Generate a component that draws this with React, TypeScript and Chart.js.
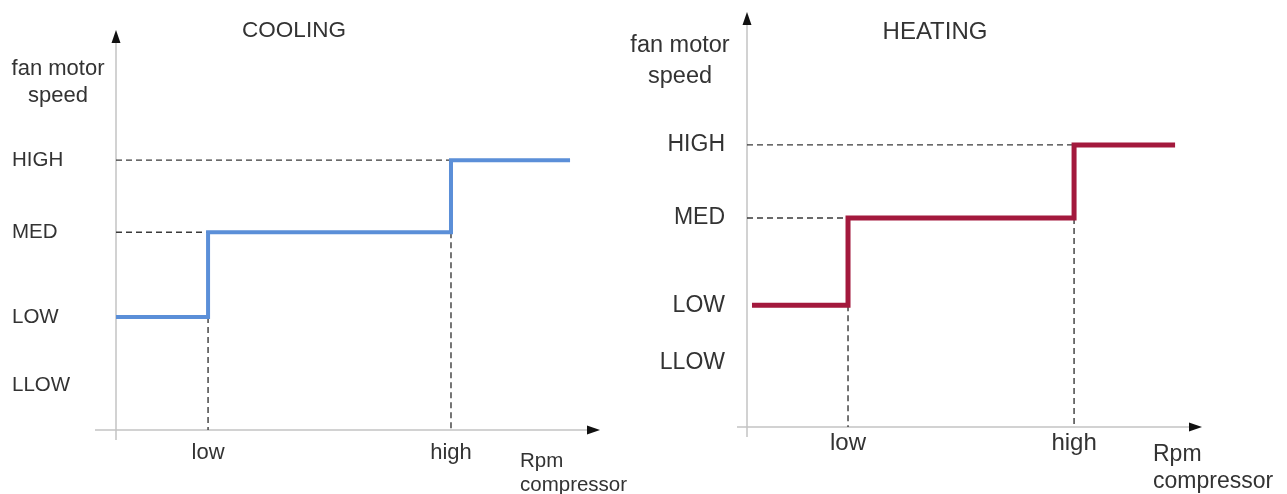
import React, { useEffect, useRef } from "react";
import { Chart, registerables } from "chart.js";

Chart.register(...registerables);

// ---- data ----
const speedLevels = ["LLOW", "LOW", "MED", "HIGH"];
const rpmLabels = ["low", "high"];

// cooling panel (values on a 0-100 scale of each axis)
const coolingLevelValues = [11.3, 28.4, 49.7, 67.8];
const coolingRpmValues = [19.1, 69.5];
const coolingRange = [0, 94.2];

// heating panel
const heatingLevelValues = [15.5, 29.5, 50.6, 68.3];
const heatingRpmValues = [22.3, 72.2];
const heatingRange = [1.1, 94.5];

const W = 1287;
const H = 494;
const TEXT = "#333333";
const AXIS = "#c4c4c4";
const DASH = "#3a3a3a";

interface Panel {
  title: string;
  levels: number[];
  rpm: number[];
  range: number[];
  color: string;
  lineWidth: number;
  font: string;
  yFontSize: number;
  xFontSize: number;
  area: { left: number; top: number; right: number; bottom: number };
  yLabelPad: number;
  yAlign: "near" | "far";
  yLeftPad: number;
  xTickPad: number;
  xOver: number;
  yOver: number;
  titlePos: [number, number];
  yTitle: [number, number, number];
  xTitle: [number, number, number];
  titleSize: number;
  textSize: number;
  xTextSize: number;
}

const SANS = "'Liberation Sans', Arial, sans-serif";

const panels: Panel[] = [
  {
    title: "COOLING",
    levels: coolingLevelValues,
    rpm: coolingRpmValues,
    range: coolingRange,
    color: "#5b8fd8",
    lineWidth: 4,
    font: SANS,
    yFontSize: 20.5,
    xFontSize: 22,
    area: { left: 116, top: 32, right: 598, bottom: 430 },
    yLabelPad: 0,
    yAlign: "far",
    yLeftPad: 12,
    xTickPad: 10,
    xOver: 21,
    yOver: 10,
    titlePos: [294, 31],
    yTitle: [58, 69, 96],
    xTitle: [520, 461, 485],
    titleSize: 22.5,
    textSize: 22,
    xTextSize: 20.5,
  },
  {
    title: "HEATING",
    levels: heatingLevelValues,
    rpm: heatingRpmValues,
    range: heatingRange,
    color: "#a3193d",
    lineWidth: 5,
    font: SANS,
    yFontSize: 23,
    xFontSize: 24,
    area: { left: 747, top: 14, right: 1200, bottom: 427 },
    yLabelPad: 22,
    yAlign: "near",
    yLeftPad: 640,
    xTickPad: 2,
    xOver: 10,
    yOver: 10,
    titlePos: [935, 32],
    yTitle: [680, 46, 77],
    xTitle: [1153, 455, 482],
    titleSize: 24,
    textSize: 23.5,
    xTextSize: 23,
  },
];

function makeConfig(p: Panel): any {
  const [, LOWv, MEDv, HIGHv] = p.levels;
  const [lowX, highX] = p.rpm;
  const [startX, endX] = p.range;
  const guide = (pts: { x: number; y: number }[]) => ({
    data: pts,
    borderColor: DASH,
    borderWidth: 1.4,
    borderDash: [6, 4],
    pointRadius: 0,
    order: 1,
    clip: false,
  });
  const decor = {
    id: "decor",
    beforeDatasetsDraw(chart: any) {
      const { ctx, chartArea: a } = chart;
      ctx.save();
      ctx.strokeStyle = AXIS;
      ctx.lineWidth = 1.5;
      ctx.beginPath();
      ctx.moveTo(a.left, a.bottom + p.yOver);
      ctx.lineTo(a.left, a.top + 8);
      ctx.moveTo(a.left - p.xOver, a.bottom);
      ctx.lineTo(a.right - 8, a.bottom);
      ctx.stroke();
      ctx.fillStyle = "#111";
      ctx.beginPath();
      ctx.moveTo(a.left, a.top - 2);
      ctx.lineTo(a.left - 4.5, a.top + 11);
      ctx.lineTo(a.left + 4.5, a.top + 11);
      ctx.closePath();
      ctx.fill();
      ctx.beginPath();
      ctx.moveTo(a.right + 2, a.bottom);
      ctx.lineTo(a.right - 11, a.bottom - 4.5);
      ctx.lineTo(a.right - 11, a.bottom + 4.5);
      ctx.closePath();
      ctx.fill();
      ctx.restore();
    },
    afterDraw(chart: any) {
      const { ctx } = chart;
      ctx.save();
      ctx.fillStyle = TEXT;
      ctx.textBaseline = "middle";
      ctx.textAlign = "center";
      ctx.font = `${p.titleSize}px ${p.font}`;
      ctx.fillText(p.title, p.titlePos[0], p.titlePos[1]);
      ctx.font = `${p.textSize}px ${p.font}`;
      ctx.fillText("fan motor", p.yTitle[0], p.yTitle[1]);
      ctx.fillText("speed", p.yTitle[0], p.yTitle[2]);
      ctx.textAlign = "left";
      ctx.font = `${p.xTextSize}px ${p.font}`;
      ctx.fillText("Rpm", p.xTitle[0], p.xTitle[1]);
      ctx.fillText("compressor", p.xTitle[0], p.xTitle[2]);
      ctx.restore();
    },
  };
  const a = p.area;
  return {
    type: "line",
    data: {
      datasets: [
        {
          data: [
            { x: startX, y: LOWv },
            { x: lowX, y: MEDv },
            { x: highX, y: HIGHv },
            { x: endX, y: HIGHv },
          ],
          borderColor: p.color,
          borderWidth: p.lineWidth,
          stepped: "before",
          pointRadius: 0,
          order: 0,
          clip: false,
          borderJoinStyle: "miter",
        },
        guide([
          { x: 0, y: HIGHv },
          { x: highX, y: HIGHv },
        ]),
        guide([
          { x: 0, y: MEDv },
          { x: lowX, y: MEDv },
        ]),
        guide([
          { x: lowX, y: LOWv },
          { x: lowX, y: 0 },
        ]),
        guide([
          { x: highX, y: MEDv },
          { x: highX, y: 0 },
        ]),
      ],
    },
    options: {
      responsive: false,
      animation: false,
      events: [],
      layout: {
        padding: {
          left: p.yLeftPad,
          top: a.top,
          right: W - a.right,
          bottom: 0,
        },
      },
      plugins: {
        legend: { display: false },
        tooltip: { enabled: false },
        title: { display: false },
      },
      scales: {
        x: {
          type: "linear",
          min: 0,
          max: 100,
          grid: { display: false, drawTicks: false },
          border: { display: false },
          afterBuildTicks: (s: any) => {
            s.ticks = p.rpm.map((v) => ({ value: v }));
          },
          afterFit: (s: any) => {
            s.height = H - a.bottom;
            s.paddingLeft = 0;
            s.paddingRight = 0;
          },
          ticks: {
            callback: (_v: any, i: number) => rpmLabels[i],
            font: { family: p.font, size: p.xFontSize },
            color: TEXT,
            padding: p.xTickPad,
            maxRotation: 0,
            autoSkip: false,
          },
        },
        y: {
          type: "linear",
          min: 0,
          max: 100,
          grid: { display: false, drawTicks: false },
          border: { display: false },
          afterBuildTicks: (s: any) => {
            s.ticks = p.levels.map((v) => ({ value: v }));
          },
          afterFit: (s: any) => {
            s.width = a.left - p.yLeftPad;
            s.paddingTop = 0;
            s.paddingBottom = 0;
          },
          ticks: {
            callback: (_v: any, i: number) => speedLevels[i],
            font: { family: p.font, size: p.yFontSize },
            color: TEXT,
            padding: p.yLabelPad,
            crossAlign: p.yAlign,
            autoSkip: false,
          },
        },
      },
    },
    plugins: [decor],
  };
}

function PanelChart({ p }: { p: Panel }) {
  const ref = useRef<HTMLCanvasElement | null>(null);
  useEffect(() => {
    if (!ref.current) return;
    const chart = new Chart(ref.current, makeConfig(p));
    return () => chart.destroy();
  }, [p]);
  return (
    <canvas
      ref={ref}
      width={W}
      height={H}
      style={{ position: "absolute", left: 0, top: 0, width: W, height: H }}
    />
  );
}

export default function App() {
  return (
    <div
      style={{
        position: "absolute",
        left: 0,
        top: 0,
        width: W,
        height: H,
        background: "#ffffff",
        overflow: "hidden",
      }}
    >
      {panels.map((p) => (
        <PanelChart key={p.title} p={p} />
      ))}
    </div>
  );
}
